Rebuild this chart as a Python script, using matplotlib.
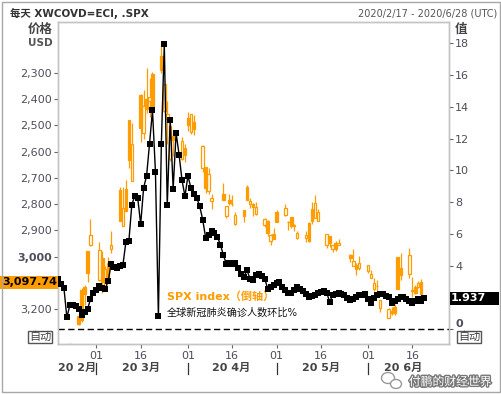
import numpy as np
import pandas as pd
import matplotlib
matplotlib.use('Agg')
import matplotlib.pyplot as plt
import matplotlib.transforms as mtrans
import matplotlib.patheffects as pe
from matplotlib.patches import Rectangle, Ellipse

plt.rcParams['font.family'] = ['DejaVu Sans', 'Noto Sans CJK SC']

# --- SPX daily candles (2020/2/18 - 2020/6/19)
spx_dates = pd.bdate_range('2020-02-18', '2020-06-19', freq='C',
                           holidays=['2020-04-10', '2020-05-25'])
spx_open = [3369.04, 3380.39, 3380.45, 3360.50, 3257.61, 3238.94, 3139.90, 3062.54, 2916.90,
            2974.28, 3096.46, 3045.75, 3075.70, 2954.20, 2863.89, 2813.48, 2825.60, 2630.86, 2569.99,
            2508.59, 2425.66, 2436.50, 2393.48, 2431.94, 2290.71, 2344.44, 2457.77, 2501.29, 2555.87,
            2558.98, 2614.69,
            2498.08, 2458.54, 2514.92, 2578.28, 2738.65, 2685.00, 2776.99, 2782.46, 2805.10, 2795.64,
            2799.34, 2842.43, 2845.62, 2784.81, 2787.89, 2810.42, 2812.64, 2854.65, 2909.96, 2918.46,
            2930.91,
            2869.09, 2815.01, 2868.88, 2883.14, 2878.26, 2908.83, 2915.46, 2939.50, 2865.86, 2794.54,
            2829.95, 2913.86, 2948.59, 2953.63, 2969.95, 2948.05, 3004.08, 3015.65, 3046.61, 3025.17,
            3031.48, 3064.78, 3098.90, 3111.56, 3163.84, 3199.92, 3213.32, 3213.42, 3123.53, 3071.04,
            2993.76, 3131.00, 3136.13, 3101.64, 3140.29]
spx_high = [3375.01, 3393.52, 3385.09, 3360.76, 3259.81, 3246.99, 3182.51, 3097.07, 2959.72,
            3090.96, 3136.72, 3130.97, 3083.04, 2985.93, 2863.89, 2882.59, 2825.60, 2660.95, 2711.33,
            2562.98, 2553.93, 2453.57, 2466.97, 2453.01, 2300.73, 2449.71, 2571.42, 2637.01, 2615.91,
            2631.80, 2641.39,
            2522.75, 2533.22, 2538.18, 2676.85, 2756.89, 2760.75, 2818.57, 2782.46, 2851.85, 2801.88,
            2806.51, 2879.22, 2868.98, 2785.54, 2815.10, 2844.90, 2842.71, 2887.72, 2921.15, 2954.86,
            2930.91,
            2869.09, 2844.24, 2898.23, 2891.11, 2901.92, 2932.16, 2944.25, 2945.82, 2874.14, 2852.80,
            2865.01, 2968.09, 2964.21, 2980.29, 2978.50, 2956.76, 3021.72, 3036.25, 3068.67, 3049.17,
            3062.18, 3081.07, 3130.94, 3128.91, 3211.72, 3233.13, 3222.71, 3223.27, 3123.53, 3088.42,
            3079.76, 3153.45, 3141.16, 3120.00, 3155.53]
spx_low = [3355.61, 3378.83, 3338.39, 3328.45, 3214.65, 3118.77, 3108.99, 2977.39, 2855.84,
           2945.19, 2976.63, 3034.38, 2999.83, 2901.54, 2734.43, 2734.00, 2707.22, 2478.86, 2492.37,
           2380.94, 2367.04, 2280.52, 2319.78, 2295.56, 2191.86, 2344.44, 2407.53, 2500.72, 2520.02,
           2545.28, 2571.15,
           2447.49, 2455.79, 2459.96, 2574.57, 2657.67, 2663.30, 2762.36, 2721.17, 2805.10, 2761.54,
           2764.32, 2830.88, 2820.43, 2727.10, 2775.95, 2794.26, 2791.76, 2852.89, 2860.71, 2912.16,
           2892.47,
           2821.61, 2797.85, 2863.55, 2847.65, 2876.48, 2902.88, 2903.44, 2869.59, 2793.15, 2766.64,
           2816.78, 2913.86, 2922.35, 2953.63, 2938.57, 2933.59, 2988.17, 2969.75, 3023.40, 2998.61,
           3031.48, 3051.64, 3080.96, 3090.41, 3163.84, 3196.00, 3193.11, 3181.49, 2999.49, 2984.47,
           2965.66, 3076.06, 3108.03, 3093.51, 3083.11]
spx_close = [3370.29, 3386.15, 3373.23, 3337.75, 3225.89, 3128.21, 3116.39, 2978.76, 2954.22,
             3090.23, 3003.37, 3130.12, 3023.94, 2972.37, 2746.56, 2882.23, 2741.38, 2480.64, 2711.02,
             2386.13, 2529.19, 2398.10, 2409.39, 2304.92, 2237.40, 2447.33, 2475.56, 2630.07, 2541.47,
             2626.65, 2584.59,
             2470.50, 2526.90, 2488.65, 2663.68, 2659.41, 2749.98, 2789.82, 2761.63, 2846.06, 2783.36,
             2799.55, 2874.56, 2823.16, 2736.56, 2799.31, 2797.80, 2836.74, 2878.48, 2863.39, 2939.51,
             2912.43,
             2830.71, 2842.74, 2868.44, 2848.42, 2881.19, 2929.80, 2930.32, 2870.12, 2820.00, 2852.50,
             2863.70, 2953.91, 2922.94, 2971.61, 2948.51, 2955.45, 2991.77, 3036.13, 3029.73, 3044.31,
             3055.73, 3080.82, 3122.87, 3112.35, 3193.93, 3232.39, 3207.18, 3190.14, 3002.10, 3041.31,
             3066.59, 3124.74, 3113.49, 3115.34, 3097.74]

# --- Global COVID-19 confirmed cases, day-on-day change in % (from 2020/2/17)
covid_growth = [3.19, 2.87, 2.62, 0.74, 1.5, 1.55, 1.47, 1.3, 0.89, 1.1,
                1.26, 1.89, 2.31, 2.5, 2.71, 2.6, 2.56, 3.02, 4.13, 3.9,
                3.86, 4.0, 4.07, 5.5, 5.54, 7.84, 8.39, 8.26, 6.61, 8.91,
                9.65, 11.68, 13.78, 9.9, 0.82, 11.68, 17.97, 7.8, 13.19, 8.85,
                12.35, 10.99, 9.38, 8.37, 9.65, 8.91, 8.53, 8.26, 7.74, 6.9,
                5.77, 5.92, 6.17, 6.06, 5.8, 5.33, 4.66, 4.13, 4.18, 4.13,
                4.18, 3.86, 3.5, 3.3, 3.72, 3.19, 3.09, 3.4, 3.5, 3.35,
                3.19, 2.56, 2.65, 2.77, 2.9, 2.98, 2.67, 2.45, 2.25, 2.3,
                2.46, 2.67, 2.55, 2.4, 2.2, 2.04, 2.1, 2.18, 2.25, 2.35,
                2.4, 2.3, 1.72, 2.14, 2.2, 2.25, 2.2, 2.14, 1.95, 1.83,
                1.89, 2.0, 2.14, 2.18, 2.2, 1.9, 1.62, 1.95, 2.18, 2.2,
                2.2, 2.1, 2.04, 1.66, 1.8, 1.93, 2.04, 2.0, 1.93, 1.75,
                1.62, 1.77, 1.9, 1.77, 1.937]
covid_dates = pd.date_range('2020-02-17', periods=len(covid_growth))

price_ticks = [2300, 2400, 2500, 2600, 2700, 2800, 2900, 3000, 3200]
value_ticks = [0, 4, 6, 8, 10, 12, 14, 16, 18]
day_ticks = pd.to_datetime(['2020-03-01', '2020-03-16', '2020-04-01', '2020-04-16',
                            '2020-05-01', '2020-05-16', '2020-06-01', '2020-06-16'])
month_names = ['20 2月', '20 3月', '20 4月', '20 5月', '20 6月']
month_pos = pd.to_datetime(['2020-02-23 12:00', '2020-03-16 00:00', '2020-04-15 12:00',
                            '2020-05-16 00:00', '2020-06-13 00:00'])
month_starts = pd.to_datetime(['2020-03-01', '2020-04-01', '2020-05-01', '2020-06-01'])

ORANGE = '#ff9c00'
TICK_COL = '#4d4d5c'
FRAME = '#c4c4c4'

fig = plt.figure(figsize=(5.02, 3.94), dpi=100)
fig.patch.set_facecolor('white')
ax = fig.add_axes([58/502, 1-344/394, 391/502, 322/394])
ax2 = ax.twinx()

# --- Candles (inverted price axis)
o = np.array(spx_open)
h = np.array(spx_high)
l = np.array(spx_low)
c = np.array(spx_close)
up = c >= o
ax.vlines(spx_dates, l, h, color=ORANGE, lw=0.9, zorder=2)
ax.bar(spx_dates[up], (c - o)[up], bottom=o[up], width=0.85, facecolor='white',
       edgecolor=ORANGE, lw=0.9, zorder=3)
ax.bar(spx_dates[~up], (o - c)[~up], bottom=c[~up], width=0.85, facecolor=ORANGE,
       edgecolor=ORANGE, lw=0.9, zorder=3)

ax.set_xlim(pd.Timestamp('2020-02-17'), pd.Timestamp('2020-06-28 10:00'))
ax.set_ylim(3332, 2107)
ax.set_yticks(price_ticks)
ax.set_yticklabels([f'{v:,}' for v in price_ticks])
ax.get_yticklabels()[price_ticks.index(3000)].set_fontweight('bold')
ax.set_xticks(day_ticks)
ax.set_xticklabels([d.strftime('%d') for d in day_ticks])
ax.tick_params(axis='y', length=3, width=0.8, color='#666666', labelcolor=TICK_COL,
               labelsize=8, pad=1.5)
ax.tick_params(axis='x', length=3, width=0.8, color='#666666', labelcolor=TICK_COL,
               labelsize=8, pad=2)

# --- COVID growth line (right axis)
ax2.plot(covid_dates, covid_growth, color='black', lw=1.0, marker='s', markersize=5,
         markeredgewidth=0, zorder=4)
ax2.axhline(0, color='black', lw=1, ls=(0, (4.5, 2.5)))
ax2.set_ylim(-0.93, 19.34)
ax2.set_yticks(value_ticks)
ax2.set_yticklabels([str(v) for v in value_ticks])
ax2.get_yticklabels()[0].set_fontweight('bold')
ax2.get_yticklabels()[0].set_va('bottom')
ax2.tick_params(axis='y', length=3, width=0.8, color='#666666', labelcolor=TICK_COL,
                labelsize=8, pad=1.5)

for a in (ax, ax2):
    for s in a.spines.values():
        s.set_color(FRAME)
        s.set_linewidth(1)

# --- Current value labels
tr_l = mtrans.blended_transform_factory(fig.transFigure, ax.transData)
ax.add_patch(Rectangle((0, spx_close[-1] - 26), 58/502, 52, transform=tr_l,
                       facecolor=ORANGE, edgecolor='none', clip_on=False, zorder=5))
ax.text(-0.002, spx_close[-1], f'{spx_close[-1]:,.2f}', transform=mtrans.blended_transform_factory(ax.transAxes, ax.transData),
        ha='right', va='center', fontsize=8, fontweight='bold', color='black', zorder=6)
tr_r = mtrans.blended_transform_factory(fig.transFigure, ax2.transData)
ax2.add_patch(Rectangle((450/502, covid_growth[-1] - 0.41), 49/502, 0.82, transform=tr_r,
                        facecolor='black', edgecolor='none', clip_on=False, zorder=5))
ax2.text(451/502, covid_growth[-1], f'{covid_growth[-1]:.3f}', transform=tr_r,
         ha='left', va='center', fontsize=8, fontweight='bold', color='white', zorder=6)

# --- Month labels and separators under the axis
xt = ax.get_xaxis_transform()
for d in month_starts:
    ax.plot([d, d], [-0.059, -0.093], color='#333333', lw=0.9, transform=xt, clip_on=False)
for name, d in zip(month_names, month_pos):
    ax.text(d, -0.075, name, transform=xt, ha='center', va='center', fontsize=8,
            fontweight='bold', color='#444444')

# --- Legend text
ax.text(167/502, 1-297/394, 'SPX index（倒轴）', transform=fig.transFigure, fontsize=8,
        fontweight='bold', color=ORANGE, va='center', ha='left')
ax.text(167/502, 1-313/394, '全球新冠肺炎确诊人数环比%', transform=fig.transFigure, fontsize=7.3,
        color='#111111', va='center', ha='left')

# --- Header and axis captions
fig.text(10/502, 1-13/394, '每天 XWCOVD=ECI, .SPX', fontsize=7.5, fontweight='bold',
         color='#333333', va='center', ha='left')
fig.text(497/502, 1-13/394, '2020/2/17 - 2020/6/28 (UTC)', fontsize=7, color='#555555',
         va='center', ha='right')
fig.text(53/502, 1-29/394, '价格', fontsize=9, fontweight='bold', color='#444444',
         va='center', ha='right')
fig.text(53/502, 1-43/394, 'USD', fontsize=7.5, fontweight='bold', color='#555555',
         va='center', ha='right')
fig.text(455/502, 1-29/394, '值', fontsize=9, fontweight='bold', color='#444444',
         va='center', ha='left')
for xpos in (40/502, 469/502):
    fig.text(xpos, 1-337/394, '自动', fontsize=8, color='#444444', va='center', ha='center',
             bbox=dict(boxstyle='square,pad=0.1', facecolor='white', edgecolor='#555555', lw=1))

# --- Watermark
fig.patches.append(Ellipse((388/502, 1-378/394), 13/502, 11/394, transform=fig.transFigure,
                           facecolor='white', edgecolor='#999999', lw=1))
fig.patches.append(Ellipse((396/502, 1-384/394), 11/502, 9/394, transform=fig.transFigure,
                           facecolor='white', edgecolor='#999999', lw=1))
fig.text(450/502, 1-382/394, '付鹏的财经世界', fontsize=8.5, color='white', va='center', ha='center',
         path_effects=[pe.withStroke(linewidth=2, foreground='#777777')])

# --- Outer frame
fig.patches.append(Rectangle((0.003, 0.004), 0.994, 0.992, transform=fig.transFigure,
                             fill=False, edgecolor='#a8a8a8', lw=1))

fig.savefig('out.png', dpi=100)
